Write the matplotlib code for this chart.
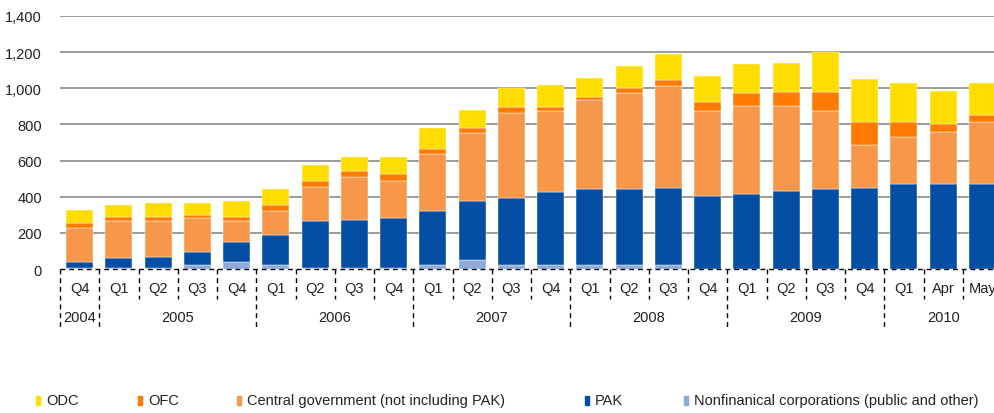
import matplotlib
matplotlib.use("Agg")
import matplotlib.pyplot as plt
import matplotlib.patches as mpatches
import numpy as np

plt.rcParams['font.family'] = ['Liberation Sans', 'DejaVu Sans']

# periods (quarters, then months in 2010)
period_labels = ["Q4",
                 "Q1", "Q2", "Q3", "Q4",
                 "Q1", "Q2", "Q3", "Q4",
                 "Q1", "Q2", "Q3", "Q4",
                 "Q1", "Q2", "Q3", "Q4",
                 "Q1", "Q2", "Q3", "Q4",
                 "Q1", "Apr", "May"]
years = ["2004", "2005", "2006", "2007", "2008", "2009", "2010"]
year_counts = [1, 4, 4, 4, 4, 4, 3]

# stacked segments, bottom to top
nonfin = [5, 5, 5, 24, 40, 24, 5, 5, 5, 22, 52, 20, 20, 20, 20, 20, 0, 0, 0, 0, 0, 0, 0, 0]
pak = [35, 54, 63, 72, 111, 166, 259, 268, 277, 297, 324, 375, 404, 421, 421, 430, 404, 413, 432, 441, 450, 469, 469, 469]
central_gov = [187, 207, 198, 188, 115, 131, 191, 238, 207, 319, 378, 468, 449, 496, 533, 563, 469, 491, 472, 432, 238, 263, 291, 346]
ofc = [26, 24, 24, 17, 24, 35, 34, 33, 37, 26, 24, 35, 25, 17, 28, 35, 53, 68, 77, 108, 125, 81, 44, 35]
odc = [75, 66, 77, 66, 88, 87, 85, 76, 94, 114, 104, 104, 122, 103, 121, 140, 142, 161, 161, 218, 237, 216, 179, 179]

series = [
    ("Nonfinanical corporations (public and other)", nonfin, "#8eaadc"),
    ("PAK", pak, "#034ea2"),
    ("Central government (not including PAK)", central_gov, "#f7974a"),
    ("OFC", ofc, "#ff7c00"),
    ("ODC", odc, "#ffdd00"),
]

fig = plt.figure(figsize=(9.95, 4.14), dpi=100)
ax = fig.add_axes([60 / 995, 144 / 414, 935 / 995, 253 / 414])

x = np.arange(len(period_labels))
bottom = np.zeros(len(x))
for name, vals, col in series:
    vals = np.array(vals, dtype=float)
    ax.bar(x, vals, width=0.69, bottom=bottom, color=col, edgecolor="white", linewidth=0.3, zorder=3)
    bottom += vals

ax.set_ylim(0, 1400)
ax.set_xlim(-0.5, 23.32)
ax.set_yticks(range(0, 1401, 200))
ax.set_yticklabels([f"{v:,}" for v in range(0, 1401, 200)], fontsize=10.5, color="#222222")
ax.tick_params(axis="y", length=0, pad=13)
ax.set_xticks([])
for s in ax.spines.values():
    s.set_visible(False)
for v in range(200, 1401, 200):
    ax.axhline(v, color="#8a8a8a", linewidth=1.2, zorder=1)

# category axis drawn as dashed boxes
dash = (0, (3.5, 2.8))
ax.axhline(0, color="black", linewidth=1.0, linestyle=dash, zorder=4, clip_on=False)
trans = ax.get_xaxis_transform()
year_edges = np.cumsum([0] + year_counts) - 0.5
for i in range(len(x)):
    edge = i - 0.5
    long_tick = edge in year_edges
    y_end = -0.229 if long_tick else -0.119
    ax.plot([edge, edge], [0, y_end], transform=trans, color="black", linewidth=1.0,
            linestyle=dash, clip_on=False)
for i, lab in enumerate(period_labels):
    ax.text(i, -0.075, lab, transform=trans, ha="center", va="center", fontsize=10.5, color="#222222")
for yr, start, cnt in zip(years, year_edges[:-1], year_counts):
    ax.text(start + cnt / 2, -0.19, yr, transform=trans, ha="center", va="center", fontsize=10.5,
            color="#222222")

# legend laid out by hand to match the uneven column spacing
legend_x = [36, 138, 237, 585, 684]
legend_y = 1 - 401 / 414
for (name, _, col), lx in zip(series[::-1], legend_x):
    fig.patches.append(mpatches.Rectangle((lx / 995, legend_y - 4.5 / 414), 4.5 / 995, 9 / 414,
                                          transform=fig.transFigure, color=col))
    fig.text((lx + 10) / 995, legend_y, name, ha="left", va="center", fontsize=10.5, color="#222222")

fig.savefig("out.png", dpi=100)
